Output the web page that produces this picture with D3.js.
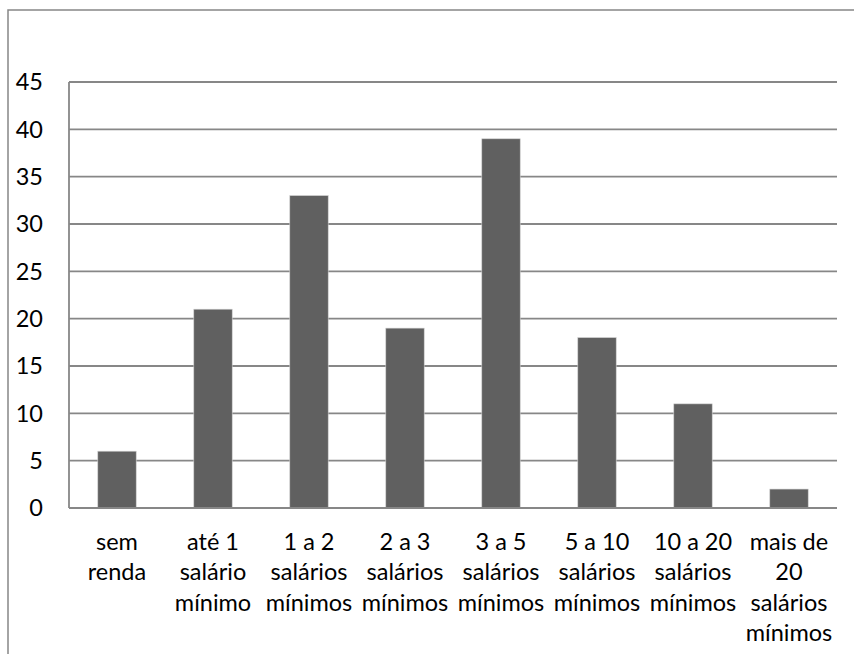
<!DOCTYPE html>
<html>
<head>
<meta charset="utf-8">
<script src="https://cdn.jsdelivr.net/npm/d3@7"></script>
<style>
  html, body { margin: 0; padding: 0; background: #fff; }
  svg { display: block; }
  text { font-family: Lato, "Open Sans", sans-serif; fill: #000; }
</style>
</head>
<body>
<svg id="chart" width="854" height="654"></svg>
<script>
// Distribuição por faixa de renda
const categories = [
  ["sem", "renda"],
  ["até 1", "salário", "mínimo"],
  ["1 a 2", "salários", "mínimos"],
  ["2 a 3", "salários", "mínimos"],
  ["3 a 5", "salários", "mínimos"],
  ["5 a 10", "salários", "mínimos"],
  ["10 a 20", "salários", "mínimos"],
  ["mais de", "20", "salários", "mínimos"]
];
const values = [6, 21, 33, 19, 39, 18, 11, 2];
const yTicks = [0, 5, 10, 15, 20, 25, 30, 35, 40, 45];

const svg = d3.select("#chart");
const margin = { left: 69, right: 17, top: 82, bottom: 146 };
const W = 854, H = 654;
const fontSize = 23.5;
const gridColor = "#878787";

// outer chart frame
svg.append("rect")
  .attr("x", 8).attr("y", 10)
  .attr("width", 860).attr("height", 660)
  .attr("fill", "#fff")
  .attr("stroke", gridColor)
  .attr("stroke-width", 1.5);

const x = d3.scaleBand()
  .domain(d3.range(categories.length))
  .range([margin.left, W - margin.right])
  .paddingInner(0.6)
  .paddingOuter(0.3);

const y = d3.scaleLinear()
  .domain([0, 45])
  .range([H - margin.bottom, margin.top]);

// horizontal gridlines
svg.append("g")
  .selectAll("line")
  .data(yTicks)
  .join("line")
  .attr("x1", margin.left)
  .attr("x2", W - margin.right)
  .attr("y1", d => y(d))
  .attr("y2", d => y(d))
  .attr("stroke", gridColor)
  .attr("stroke-width", 1.8);

// bars
svg.append("g")
  .selectAll("rect")
  .data(values)
  .join("rect")
  .attr("x", (d, i) => x(i))
  .attr("width", x.bandwidth())
  .attr("y", d => y(d))
  .attr("height", d => y(0) - y(d))
  .attr("fill", "#606060")
  .attr("stroke", "#cfcfcf")
  .attr("stroke-width", 0.6);

// y axis line and baseline
svg.append("line")
  .attr("x1", margin.left).attr("x2", margin.left)
  .attr("y1", y(45)).attr("y2", y(0))
  .attr("stroke", gridColor).attr("stroke-width", 1.8);
svg.append("line")
  .attr("x1", margin.left).attr("x2", W - margin.right)
  .attr("y1", y(0)).attr("y2", y(0))
  .attr("stroke", gridColor).attr("stroke-width", 1.8);

// y tick labels
svg.append("g")
  .selectAll("text")
  .data(yTicks)
  .join("text")
  .attr("x", 43)
  .attr("y", d => y(d))
  .attr("dy", "0.36em")
  .attr("text-anchor", "end")
  .style("font-size", fontSize + "px")
  .text(d => d);

// category labels (multi-line)
const lineGap = 30.3;
const firstBaseline = 550;
const labels = svg.append("g")
  .selectAll("text")
  .data(categories)
  .join("text")
  .attr("text-anchor", "middle")
  .style("font-size", fontSize + "px");
labels.selectAll("tspan")
  .data((d, i) => d.map(t => ({ t, i })))
  .join("tspan")
  .attr("x", d => x(d.i) + x.bandwidth() / 2)
  .attr("y", (d, j) => firstBaseline + j * lineGap)
  .text(d => d.t);
</script>
</body>
</html>
